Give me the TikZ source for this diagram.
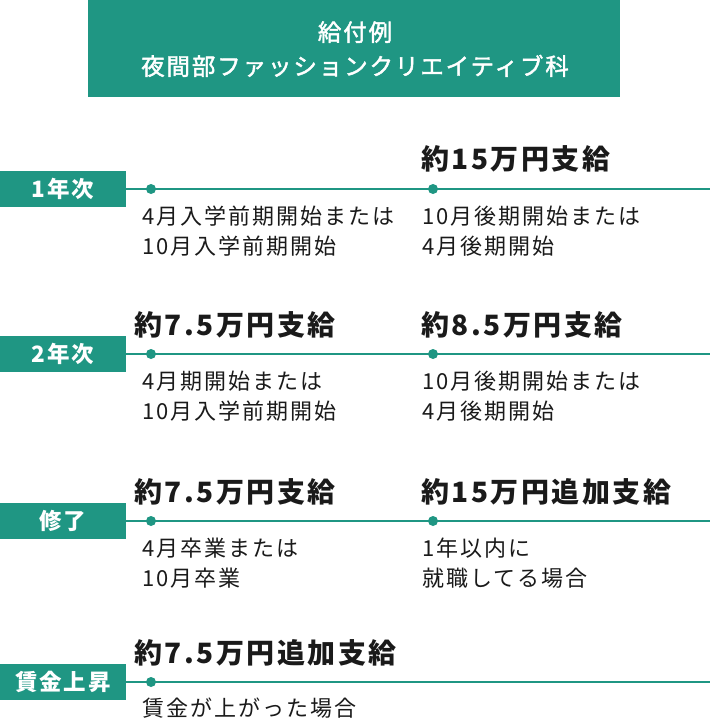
\documentclass[tikz,border=0pt]{standalone}
\usepackage{fontspec}
\newfontfamily\jpsub{Noto Sans CJK JP}[LetterSpace=9]
\newfontfamily\jphead{Noto Sans CJK JP}[LetterSpace=9]
\newfontfamily\jplab{Noto Sans CJK JP}[LetterSpace=8]
\newfontfamily\jptitle{Noto Sans CJK JP}[LetterSpace=8,FakeBold=1.8]
\definecolor{teal}{HTML}{1F9683}
\definecolor{ink}{HTML}{1A1A1A}
\tikzset{
  labelbox/.style={fill=teal, text=white, inner sep=0pt, outer sep=0pt,
    minimum width=126pt, minimum height=36pt, font=\jplab\bfseries\fontsize{22.5}{24}\selectfont},
  titlebox/.style={fill=teal, text=white, inner sep=0pt, outer sep=0pt,
    minimum width=532pt, minimum height=97pt},
  titletext/.style={text=white, inner sep=0pt, anchor=base, font=\jptitle\fontsize{23.5}{26}\selectfont},
  headtext/.style={anchor=base west, inner sep=0pt, text=ink, font=\jphead\bfseries\fontsize{28}{30}\selectfont},
  subtext/.style={anchor=base west, inner sep=0pt, text=ink, font=\jpsub\fontsize{22}{30}\selectfont},
  dotmark/.style={circle, fill=teal, inner sep=0pt, minimum size=10pt},
  rail/.style={draw=teal, line width=2.2pt}
}
\begin{document}
\begin{tikzpicture}[x=1pt,y=-1pt]
\useasboundingbox (0,0) rectangle (710,722);
% title
\node[titlebox] (title) at (354,48.5) {};
\node[titletext] (t1) at (355,41) {給付例};
\node[titletext] (t2) at (355,75) {夜間部ファッションクリエイティブ科};
% row 1
\node[labelbox] (r1) at (63,189) {1年次};
\coordinate (e1) at (710,189);
\draw[rail] (r1.east) -- (e1);
\node[dotmark] (d11) at (151,189) {};
\node[dotmark] (d12) at (433,189) {};
\node[headtext] (h12) at (421,170) {約15万円支給};
\node[subtext] (s11a) at (142,224) {4月入学前期開始または};
\node[subtext] (s11b) at (142,254) {10月入学前期開始};
\node[subtext] (s12a) at (422,224) {10月後期開始または};
\node[subtext] (s12b) at (422,254) {4月後期開始};
% row 2
\node[labelbox] (r2) at (63,354) {2年次};
\coordinate (e2) at (710,354);
\draw[rail] (r2.east) -- (e2);
\node[dotmark] (d21) at (151,354) {};
\node[dotmark] (d22) at (433,354) {};
\node[headtext] (h21) at (134,335) {約7.5万円支給};
\node[headtext] (h22) at (421,335) {約8.5万円支給};
\node[subtext] (s21a) at (142,389) {4月期開始または};
\node[subtext] (s21b) at (142,419) {10月入学前期開始};
\node[subtext] (s22a) at (422,389) {10月後期開始または};
\node[subtext] (s22b) at (422,419) {4月後期開始};
% row 3
\node[labelbox] (r3) at (63,521) {修了};
\coordinate (e3) at (710,521);
\draw[rail] (r3.east) -- (e3);
\node[dotmark] (d31) at (151,521) {};
\node[dotmark] (d32) at (433,521) {};
\node[headtext] (h31) at (134,502) {約7.5万円支給};
\node[headtext] (h32) at (421,502) {約15万円追加支給};
\node[subtext] (s31a) at (142,556) {4月卒業または};
\node[subtext] (s31b) at (142,586) {10月卒業};
\node[subtext] (s32a) at (422,556) {1年以内に};
\node[subtext] (s32b) at (422,586) {就職してる場合};
% row 4
\node[labelbox] (r4) at (63,682) {賃金上昇};
\coordinate (e4) at (710,682);
\draw[rail] (r4.east) -- (e4);
\node[dotmark] (d41) at (151,682) {};
\node[headtext] (h41) at (134,663) {約7.5万円追加支給};
\node[subtext] (s41a) at (142,716) {賃金が上がった場合};
\end{tikzpicture}
\end{document}
